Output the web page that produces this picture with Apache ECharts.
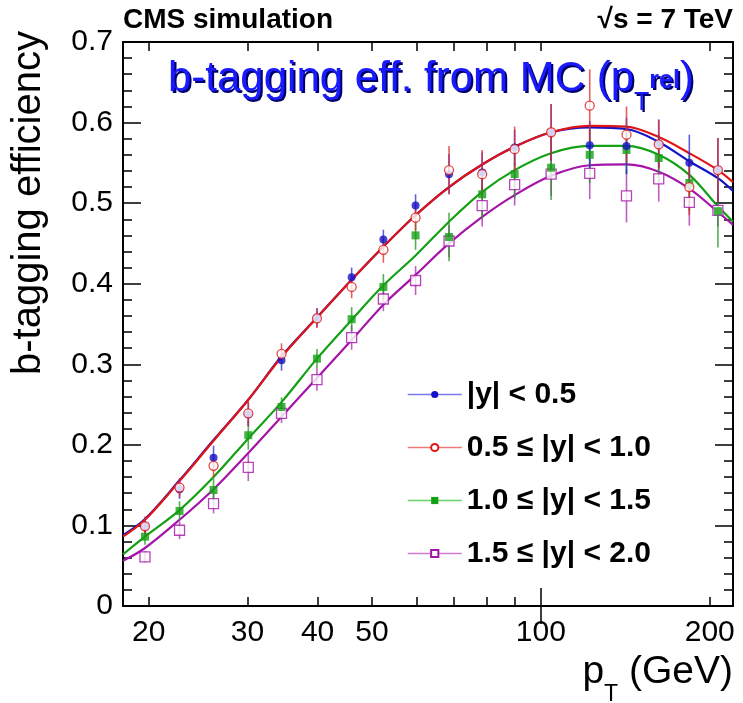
<!DOCTYPE html>
<html>
<head>
<meta charset="utf-8">
<script src="https://cdn.jsdelivr.net/npm/echarts@6/dist/echarts.min.js"></script>
<style>
html,body{margin:0;padding:0;background:#fff;}
#chart{width:743px;height:703px;}
</style>
</head>
<body>
<div id="chart"></div>
<script>
// ---- data ----
const ptBins = [19.7, 22.7, 26.1, 30.1, 34.5, 39.9, 46.0, 52.4, 59.8, 68.6, 78.6, 89.8, 104.3, 122.2, 142.1, 162.2, 183.9, 206.8];
const eff05 = [0.099, 0.145, 0.184, 0.238, 0.305, 0.358, 0.408, 0.455, 0.497, 0.536, 0.538, 0.569, 0.588, 0.572, 0.571, 0.574, 0.550, 0.541];
const err05 = [0.010, 0.012, 0.015, 0.015, 0.013, 0.012, 0.012, 0.012, 0.014, 0.025, 0.025, 0.022, 0.035, 0.030, 0.035, 0.030, 0.035, 0.040];
const eff10 = [0.099, 0.147, 0.174, 0.239, 0.313, 0.357, 0.396, 0.442, 0.482, 0.541, 0.536, 0.567, 0.588, 0.621, 0.585, 0.573, 0.520, 0.541];
const err10 = [0.012, 0.012, 0.014, 0.015, 0.013, 0.012, 0.014, 0.016, 0.016, 0.030, 0.030, 0.028, 0.035, 0.045, 0.035, 0.030, 0.035, 0.040];
const eff15 = [0.086, 0.118, 0.144, 0.212, 0.247, 0.307, 0.356, 0.396, 0.460, 0.458, 0.511, 0.536, 0.544, 0.560, 0.566, 0.556, 0.525, 0.490];
const err15 = [0.010, 0.012, 0.014, 0.018, 0.012, 0.012, 0.015, 0.016, 0.018, 0.030, 0.030, 0.030, 0.040, 0.035, 0.030, 0.030, 0.035, 0.045];
const eff20 = [0.061, 0.094, 0.127, 0.172, 0.239, 0.281, 0.333, 0.381, 0.404, 0.453, 0.497, 0.523, 0.536, 0.537, 0.509, 0.530, 0.501, 0.491];
const err20 = [0.007, 0.011, 0.012, 0.017, 0.012, 0.014, 0.015, 0.015, 0.018, 0.020, 0.026, 0.026, 0.027, 0.032, 0.033, 0.028, 0.029, 0.020];

const fitPt = [18, 19.7, 22.7, 26.1, 30.1, 34.5, 39.9, 46.0, 52.4, 59.8, 68.6, 78.6, 89.8, 104.3, 122.2, 142.1, 162.2, 183.9, 206.8, 220];
const fit05 = [0.088, 0.108, 0.156, 0.206, 0.256, 0.310, 0.358, 0.405, 0.446, 0.485, 0.520, 0.548, 0.570, 0.588, 0.594, 0.592, 0.576, 0.552, 0.531, 0.515];
const fit10 = [0.086, 0.107, 0.155, 0.205, 0.256, 0.309, 0.358, 0.405, 0.446, 0.485, 0.520, 0.548, 0.570, 0.588, 0.596, 0.595, 0.582, 0.562, 0.541, 0.526];
const fit15 = [0.064, 0.086, 0.119, 0.160, 0.208, 0.253, 0.307, 0.355, 0.398, 0.435, 0.477, 0.514, 0.541, 0.562, 0.571, 0.571, 0.560, 0.535, 0.496, 0.477];
const fit20 = [0.056, 0.072, 0.107, 0.145, 0.190, 0.235, 0.283, 0.330, 0.374, 0.411, 0.450, 0.483, 0.510, 0.534, 0.547, 0.548, 0.539, 0.518, 0.489, 0.473];

const xLabelValues = [20, 30, 40, 50, 100, 200];
const xTickValues = [20, 30, 40, 50, 60, 70, 80, 90, 100, 200];
const xLongTickValues = [100];
const seriesNames = ['|y| < 0.5', '0.5 \u2264 |y| < 1.0', '1.0 \u2264 |y| < 1.5', '1.5 \u2264 |y| < 2.0'];

// ---- styling ----
const FONT = '"Liberation Sans", Arial, Helvetica, sans-serif';
const colors = ['#1212c8', '#e01515', '#14a014', '#a414a8'];
const barColors = ['rgba(40,40,220,0.75)', 'rgba(225,40,40,0.75)', 'rgba(30,150,30,0.75)', 'rgba(170,40,175,0.75)'];
const legendLineColors = ['#7a7af0', '#f07a7a', '#6ad06a', '#d07ad4'];
const symbols = ['circle', 'emptyCircle', 'rect', 'emptyRect'];
const symbolSizes = [8, 9, 8, 10];

const effs = [eff05, eff10, eff15, eff20];
const errs = [err05, err10, err15, err20];
const fits = [fit05, fit10, fit15, fit20];

const series = [];
// fits (draw order: magenta, green, blue, red)
[3, 2, 0, 1].forEach(i => {
  series.push({
    name: seriesNames[i],
    type: 'line',
    xAxisIndex: 0, yAxisIndex: 0,
    data: fitPt.map((x, k) => [x, fits[i][k]]),
    smooth: 0.35,
    showSymbol: false,
    symbol: symbols[i],
    symbolSize: symbolSizes[i],
    itemStyle: { color: colors[i] },
    lineStyle: { color: colors[i], width: 2.2 },
    z: 2,
    silent: true
  });
});
// error bars
[3, 2, 0, 1].forEach(i => {
  series.push({
    name: 'err' + i,
    type: 'custom',
    xAxisIndex: 0, yAxisIndex: 0,
    data: ptBins.map((x, k) => [x, effs[i][k], errs[i][k]]),
    encode: { x: 0, y: 1 },
    renderItem: (params, api) => {
      const x = api.value(0), y = api.value(1), e = api.value(2);
      const p1 = api.coord([x, y + e]);
      const p2 = api.coord([x, y - e]);
      return {
        type: 'line',
        shape: { x1: p1[0], y1: p1[1], x2: p2[0], y2: p2[1] },
        style: { stroke: barColors[i], lineWidth: 1.6 }
      };
    },
    z: 3,
    silent: true
  });
});
// markers
[3, 2, 0, 1].forEach(i => {
  const empty = symbols[i].indexOf('empty') === 0;
  series.push({
    name: 'pts' + i,
    type: 'scatter',
    xAxisIndex: 0, yAxisIndex: 0,
    data: ptBins.map((x, k) => [x, effs[i][k]]),
    symbol: symbols[i].replace('empty', '').toLowerCase(),
    symbolSize: symbolSizes[i],
    itemStyle: empty ? { color: '#fff', borderColor: colors[i], borderWidth: 1.3 } : { color: colors[i] },
    z: 4,
    silent: true
  });
});

const axisLine = { show: true, onZero: false, lineStyle: { color: '#000', width: 2 } };
const xCommon = { type: 'log', logBase: 10, min: 18, max: 220, gridIndex: 0, splitLine: { show: false } };

const titleRich = (col, shadow) => ({
  m: { fontFamily: FONT, fontSize: 42, lineHeight: 58, color: col, verticalAlign: 'top' },
  sub: { fontFamily: FONT, fontSize: 25, lineHeight: 25, color: col, verticalAlign: 'top', padding: [33, 0, 0, 0] },
  sup: { fontFamily: FONT, fontSize: 25, fontWeight: 'bold', lineHeight: 25, color: col, verticalAlign: 'top', padding: [11, 0, 0, 0] }
});
const titleText = '{m|b-tagging eff. from MC (p}{sub|T}{sup|rel}{m|)}';

const option = {
  animation: false,
  backgroundColor: '#fff',
  grid: { left: 123, right: 10, top: 42, bottom: 97, containLabel: false },
  xAxis: [
    Object.assign({}, xCommon, {
      position: 'bottom',
      axisLine: axisLine,
      axisTick: { show: true, inside: true, length: 9, customValues: xTickValues, lineStyle: { color: '#000', width: 1.5 } },
      axisLabel: { show: true, customValues: xLabelValues, margin: 12, fontSize: 30, fontFamily: FONT, color: '#000', formatter: v => String(Math.round(v)) }
    }),
    Object.assign({}, xCommon, {
      position: 'bottom',
      axisLine: { show: false },
      axisTick: { show: true, inside: true, length: 18, customValues: xLongTickValues, lineStyle: { color: '#000', width: 1.5 } },
      axisLabel: { show: false }
    }),
    Object.assign({}, xCommon, {
      position: 'top',
      axisLine: axisLine,
      axisTick: { show: true, inside: true, length: 9, customValues: xTickValues, lineStyle: { color: '#000', width: 1.5 } },
      axisLabel: { show: false }
    }),
    Object.assign({}, xCommon, {
      position: 'top',
      axisLine: { show: false },
      axisTick: { show: true, inside: true, length: 18, customValues: xLongTickValues, lineStyle: { color: '#000', width: 1.5 } },
      axisLabel: { show: false }
    })
  ],
  yAxis: [
    {
      type: 'value', min: 0, max: 0.7, interval: 0.1, position: 'left',
      axisLine: axisLine,
      axisTick: { show: true, inside: true, length: 18, lineStyle: { color: '#000', width: 1.5 } },
      minorTick: { show: true, splitNumber: 5, length: 9, lineStyle: { color: '#000', width: 1.5 } },
      splitLine: { show: false },
      axisLabel: { margin: 10, fontSize: 30, fontFamily: FONT, color: '#000', formatter: v => v === 0 ? '0' : v.toFixed(1) }
    },
    {
      type: 'value', min: 0, max: 0.7, interval: 0.1, position: 'right',
      axisLine: axisLine,
      axisTick: { show: true, inside: true, length: 18, lineStyle: { color: '#000', width: 1.5 } },
      minorTick: { show: true, splitNumber: 5, length: 9, lineStyle: { color: '#000', width: 1.5 } },
      splitLine: { show: false },
      axisLabel: { show: false }
    }
  ],
  legend: {
    orient: 'vertical',
    left: 402, top: 374,
    itemWidth: 54, itemHeight: 9,
    itemGap: 22,
    selectedMode: false,
    textStyle: { fontFamily: FONT, fontSize: 30, fontWeight: 'bold', color: '#000', lineHeight: 31 },
    data: seriesNames.map((n, i) => ({
      name: n,
      itemStyle: { color: colors[i], borderWidth: 0 },
      lineStyle: { color: legendLineColors[i], width: 1.5 }
    }))
  },
  graphic: [
    {
      type: 'text', left: 123, top: 6,
      style: { text: 'CMS simulation', font: 'bold 28px ' + FONT, fill: '#000' }
    },
    {
      type: 'text', right: 10, top: 6,
      style: { text: '\u221As = 7 TeV', font: 'bold 28px ' + FONT, fill: '#000' }
    },
    {
      type: 'text', x: 170, y: 60, z: 10,
      style: { text: titleText, fill: '#00006a', rich: titleRich('#00006a') }
    },
    {
      type: 'text', x: 168, y: 58, z: 11,
      style: { text: titleText, fill: '#1a1aff', rich: titleRich('#1a1aff') }
    },
    {
      type: 'text', x: 29, y: 203, rotation: Math.PI / 2,
      style: { text: 'b-tagging efficiency', font: '40px ' + FONT, fill: '#000', align: 'center', verticalAlign: 'middle' }
    },
    {
      type: 'text', x: 733, y: 653,
      style: {
        text: '{a|p}{s|T}{a| (GeV)}',
        align: 'right', verticalAlign: 'top',
        fill: '#000',
        rich: {
          a: { fontFamily: FONT, fontSize: 39, lineHeight: 48, color: '#000', verticalAlign: 'top' },
          s: { fontFamily: FONT, fontSize: 23, lineHeight: 23, color: '#000', verticalAlign: 'top', padding: [30, 0, 0, 0] }
        }
      }
    }
  ],
  series: series
};

const chart = echarts.init(document.getElementById('chart'), null, { renderer: 'canvas' });
chart.setOption(option);
</script>
</body>
</html>
